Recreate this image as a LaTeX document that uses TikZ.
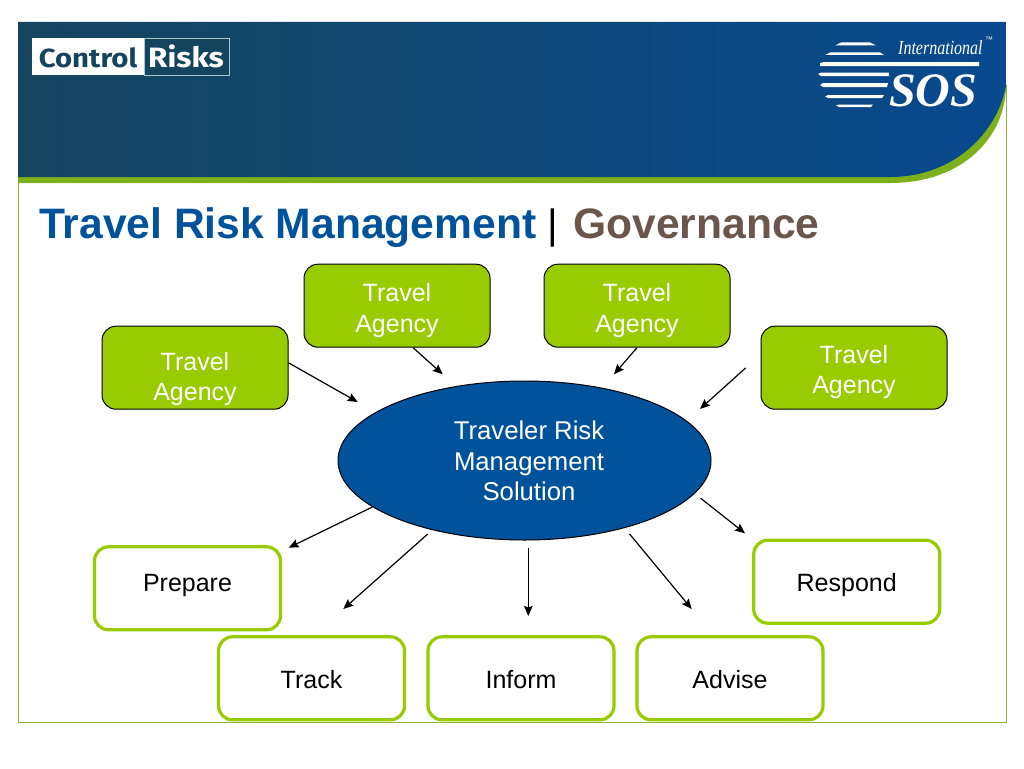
\documentclass[tikz,border=0pt]{standalone}
\usepackage{fontspec}
\setmainfont{Liberation Sans}
\newfontfamily\logofont{Fira Sans}[FakeStretch=1.12]
\newfontfamily\sosfont{Liberation Serif}
\newfontfamily\intlfont{Liberation Serif}[FakeStretch=0.8]
\usetikzlibrary{arrows.meta,shapes.geometric}

\definecolor{headdark}{HTML}{15455E}
\definecolor{headblue}{HTML}{08498F}
\definecolor{bandgreen}{HTML}{7DB01C}
\definecolor{framegreen}{HTML}{8DB33A}
\definecolor{boxgreen}{HTML}{99CC00}
\definecolor{solblue}{HTML}{00529B}
\definecolor{govbrown}{HTML}{6B564E}
\definecolor{crborder}{HTML}{A9C5CE}

\tikzset{
    agency/.style={draw=black, line width=1pt, fill=boxgreen, text=white, rounded corners=14pt,
        minimum width=186pt, minimum height=83pt, inner sep=0pt, align=center,
        font=\fontsize{25}{30.5}\selectfont},
    phase/.style={draw=boxgreen, line width=3.2pt, fill=white, text=black, rounded corners=14pt,
        minimum width=186pt, minimum height=83pt, inner sep=0pt,
        font=\fontsize{25}{30.5}\selectfont},
    textpos/.style 2 args={text height=#1pt, text depth=#2pt},
    flow/.style={draw=black, line width=1.2pt, -{Stealth[length=10pt,width=8.5pt,inset=1.5pt]}},
    stripe/.style={fill=white, draw=none}
}

\begin{document}
\begin{tikzpicture}[x=1pt, y=-1pt]
    \useasboundingbox (0,0) rectangle (1024,768);
    \fill[white] (0,0) rectangle (1024,768);

    % Frame and header band
    \draw[framegreen, line width=1pt] (18,178) -- (18,722) -- (1006,722) -- (1006,85);
    \fill[bandgreen] (18,177) -- (18,183) -- (890,183) .. controls (965,183) and (1006,135) .. (1006,85) -- cycle;
    \shade[left color=headdark, right color=headblue] (18,22) -- (1006,22) -- (1006,85)
        .. controls (1000,125) and (960,177) .. (890,177) -- (18,177) -- cycle;

    % Left logo
    \fill[white] (32,38) rectangle (144,75);
    \draw[crborder, line width=0.8pt, fill=headdark] (144,38) rectangle (229,75);
    \node[text=headdark, anchor=base, font=\logofont\bfseries\fontsize{26.2}{28}\selectfont] (crleft) at (88,67) {Control};
    \node[text=white, anchor=base, font=\logofont\bfseries\fontsize{28}{28}\selectfont] (crright) at (186,67) {Risks};

    % Right logo
    \fill[stripe] (835,45.5) -- (841,42.5) -- (870,42.5) -- (876,45.5) -- cycle;
    \fill[stripe] (825,55) -- (830,52.5) -- (880,52.5) -- (884,55) -- cycle;
    \fill[stripe] (820,66) -- (820,63) -- (824,62) -- (979,62) -- (979,66) -- cycle;
    \fill[stripe] (818,74) -- (821,72.5) -- (889,72.5) -- (889,76) -- (821,76) -- cycle;
    \fill[stripe] (820,85) -- (823,83) -- (888,83) -- (887,87) -- (823,87) -- cycle;
    \fill[stripe] (825,96.5) -- (828,95) -- (884,95) -- (882,98) -- (828,98) -- cycle;
    \fill[stripe] (836,105.5) -- (839,104.5) -- (873,104.5) -- (871,107) -- (839,107) -- cycle;
    \node[text=white, anchor=base west, inner sep=0pt, font=\intlfont\itshape\fontsize{20}{20}\selectfont] (intl) at (898,55) {International};
    \node[text=white, anchor=base west, inner sep=0pt, font=\sosfont\itshape\bfseries\fontsize{48}{48}\selectfont] (sos) at (889,106.5) {SOS};
    \node[text=white, anchor=base west, inner sep=0pt, font=\fontsize{8}{8}\selectfont] (tm) at (985,43) {™};

    % Title
    \node[text=solblue, anchor=base west, inner sep=0pt, font=\bfseries\fontsize{42.6}{42.6}\selectfont] (title) at (39,238) {Travel Risk Management};
    \node[text=black, anchor=base, inner sep=0pt, font=\fontsize{41}{41}\selectfont] (bar) at (553,238) {|};
    \node[text=govbrown, anchor=base west, inner sep=0pt, font=\bfseries\fontsize{42.6}{42.6}\selectfont] (gov) at (573,238) {Governance};

    % Centre
    \node[ellipse, draw=black, line width=1pt, fill=solblue, text=white, inner sep=0pt, textpos={20}{0},
        minimum width=373pt, minimum height=159pt, font=\fontsize{25.7}{30.5}\selectfont]
        (sol) at (524.5,460.5) {\hspace{9pt}\begin{tabular}{@{}c@{}}Traveler Risk\\Management\\Solution\end{tabular}};

    % Travel agencies
    \node[agency, textpos={66}{0}] (ta1) at (195,367.7) {Travel\\Agency};
    \node[agency, textpos={53}{0}] (ta2) at (397,305.7) {Travel\\Agency};
    \node[agency, textpos={53}{0}] (ta3) at (637,305.7) {Travel\\Agency};
    \node[agency, textpos={52}{0}] (ta4) at (854,367.7) {Travel\\Agency};

    % Phases
    \node[phase, textpos={5.4}{0}] (prepare) at (187.5,588.3) {Prepare};
    \node[phase, textpos={20}{0}] (track) at (311.5,678.3) {Track};
    \node[phase, textpos={20}{0}] (inform) at (521,678.3) {Inform};
    \node[phase, textpos={20}{0}] (advise) at (730,678.3) {Advise};
    \node[phase, textpos={18.6}{0}] (respond) at (846.7,581.7) {Respond};

    % Free arrow tips
    \coordinate (ta1tip) at (357.7,402);
    \coordinate (ta2tip) at (442.7,374.3);
    \coordinate (ta3tip) at (614,374.3);
    \coordinate (ta4tip) at (700,409);
    \coordinate (preparetip) at (288.7,547.7);
    \coordinate (tracktip) at (343.3,609);
    \coordinate (informtip) at (528.3,616);
    \coordinate (advisetip) at (691.7,609);
    \coordinate (respondtip) at (745,533.3);

    % Arrows into the solution
    \draw[flow] (ta1.3.5) -- (ta1tip);
    \draw[flow] (ta2.-69.5) -- (ta2tip);
    \draw[flow] (ta3.south) -- (ta3tip);
    \draw[flow, shorten <=20pt] (ta4.172.3) -- (ta4tip);

    % Arrows out of the solution
    \draw[flow] (sol.197.4) -- (preparetip);
    \draw[flow, shorten <=6pt] (sol.217.4) -- (tracktip);
    \draw[flow, shorten <=7pt] (informtip |- sol.south) -- (informtip);
    \draw[flow, shorten <=7.5pt] (sol.326.2) -- (advisetip);
    \draw[flow, shorten <=7.5pt] (sol.349.5) -- (respondtip);
\end{tikzpicture}
\end{document}
